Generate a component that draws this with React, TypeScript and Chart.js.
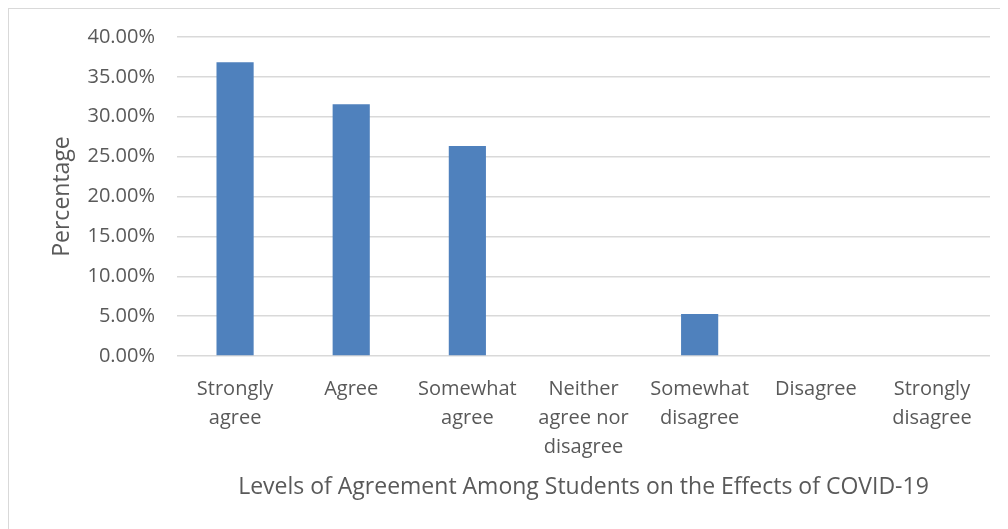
import React, { useEffect, useRef } from "react";
import { Chart, registerables } from "chart.js";

Chart.register(...registerables);

const categories: string[][] = [
  ["Strongly", "agree"],
  ["Agree"],
  ["Somewhat", "agree"],
  ["Neither", "agree nor", "disagree"],
  ["Somewhat", "disagree"],
  ["Disagree"],
  ["Strongly", "disagree"],
];
const percentages: number[] = [36.84, 31.58, 26.32, 0, 5.26, 0, 0];
const yTicks = { min: 0, max: 40, step: 5 };
const xTitle = "Levels of Agreement Among Students on the Effects of COVID-19";
const yTitle = "Percentage";

export default function App() {
  const ref = useRef<HTMLCanvasElement | null>(null);
  useEffect(() => {
    if (!ref.current) return;
    const font = "'Open Sans', 'Noto Sans', sans-serif";
    const chart = new Chart(ref.current, {
      type: "bar",
      data: {
        labels: categories,
        datasets: [
          {
            data: percentages,
            backgroundColor: "#4F81BD",
            categoryPercentage: 1,
            barPercentage: 0.32,
          },
        ],
      },
      options: {
        animation: false,
        responsive: false,
        maintainAspectRatio: false,
        layout: { padding: { top: 28, right: 18, bottom: 0, left: 0 } },
        plugins: { legend: { display: false }, tooltip: { enabled: false } },
        scales: {
          x: {
            grid: { display: false },
            border: { display: false },
            ticks: {
              color: "#595959",
              font: { family: font, size: 20, lineHeight: 1.45 },
              padding: 11,
              maxRotation: 0,
              autoSkip: false,
            },
            title: {
              display: true,
              text: xTitle,
              color: "#595959",
              font: { family: font, size: 23 },
              padding: { top: 0, bottom: 28 },
            },
            afterFit: (s: any) => {
              s.height = 173;
              s.paddingLeft = 0;
              s.paddingRight = 0;
            },
          },
          y: {
            min: yTicks.min,
            max: yTicks.max,
            grid: { color: "#d9d9d9", lineWidth: 1.5, drawTicks: false },
            border: { display: false },
            ticks: {
              stepSize: yTicks.step,
              color: "#595959",
              font: { family: font, size: 20 },
              padding: 22,
              callback: (v: any) => Number(v).toFixed(2) + "%",
            },
            title: {
              display: true,
              text: yTitle,
              color: "#595959",
              font: { family: font, size: 23 },
              padding: { top: 40, bottom: 0 },
            },
            afterFit: (s: any) => {
              s.width = 168;
              s.paddingTop = 0;
              s.paddingBottom = 0;
            },
          },
        },
      },
    });
    return () => chart.destroy();
  }, []);
  return (
    <div
      style={{
        width: 1000,
        height: 521,
        borderLeft: "1px solid #d9d9d9",
        borderTop: "1px solid #d9d9d9",
        boxSizing: "border-box",
        overflow: "hidden",
      }}
    >
      <canvas ref={ref} width={999} height={520} style={{ display: "block" }} />
    </div>
  );
}
